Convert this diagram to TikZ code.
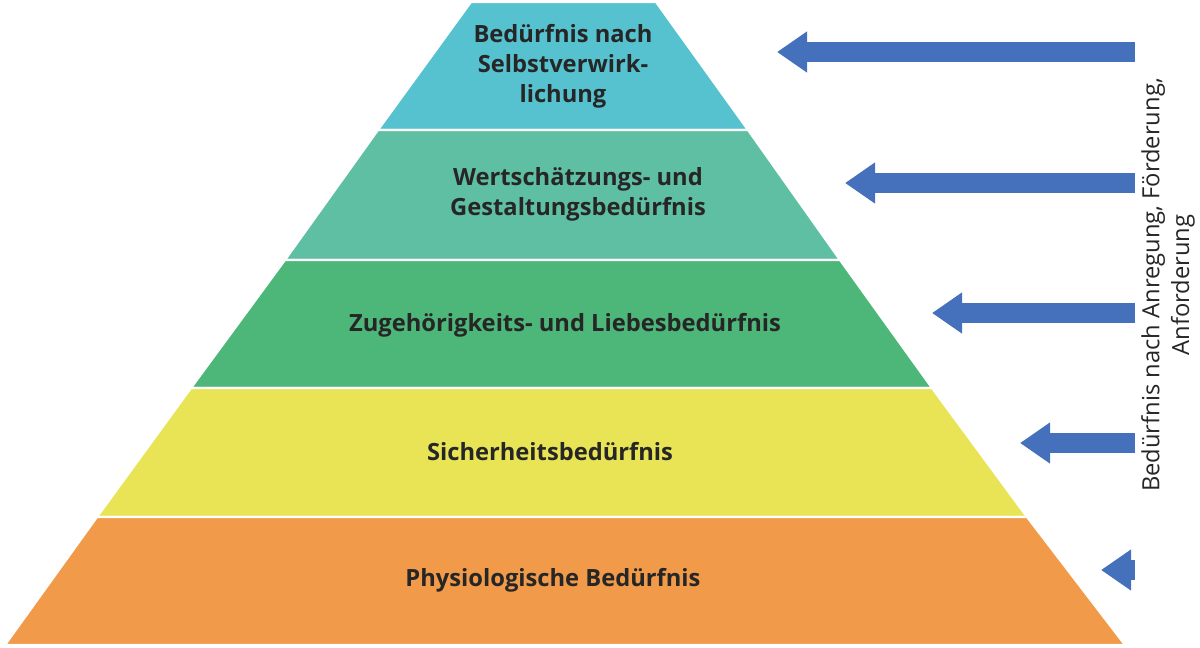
\documentclass[tikz,border=0pt]{standalone}
\usepackage{fontspec}
\setmainfont{Open Sans}
\usepackage{tikz}
\usetikzlibrary{arrows.meta}
\definecolor{lvlA}{HTML}{56C2CF}
\definecolor{lvlB}{HTML}{5FBFA2}
\definecolor{lvlC}{HTML}{4DB679}
\definecolor{lvlD}{HTML}{E9E455}
\definecolor{lvlE}{HTML}{F19A4A}
\definecolor{arrblue}{HTML}{4470BC}

\tikzset{
    layer/.style={draw=white, line width=1.2pt},
    layertext/.style={font=\fontsize{13.5}{17}\selectfont\bfseries, text=black!85, align=center},
    needarrow/.style={arrblue, line width=0.4cm, -{Triangle[length=0.6cm, width=0.78cm]}}
}

\begin{document}
\begin{tikzpicture}[x=0.02cm, y=-0.02cm]
    \useasboundingbox (0, 0) rectangle (1200, 647);
    % pyramid layers
    \fill[lvlA, layer] (471, 2) -- (656, 2) -- (748, 130) -- (378, 130) -- cycle;
    \fill[lvlB, layer] (378, 130) -- (748, 130) -- (840, 260) -- (285, 260) -- cycle;
    \fill[lvlC, layer] (285, 260) -- (840, 260) -- (932, 388) -- (191, 388) -- cycle;
    \fill[lvlD, layer] (191, 388) -- (932, 388) -- (1027, 517) -- (97, 517) -- cycle;
    \fill[lvlE, layer] (97, 517) -- (1027, 517) -- (1125, 645) -- (5, 645) -- cycle;

    \node[layertext] (selbst) at (563, 66) {Bedürfnis nach\\Selbstverwirk-\\lichung};
    \node[layertext] (wert) at (578, 194) {Wertschätzungs- und\\Gestaltungsbedürfnis};
    \node[layertext] (zug) at (565, 325) {Zugehörigkeits- und Liebesbedürfnis};
    \node[layertext] (sicher) at (550, 452) {Sicherheitsbedürfnis};
    \node[layertext] (phys) at (553, 580) {Physiologische Bedürfnis};

    % arrows
    \coordinate (a1) at (1135, 52);   \coordinate (t1) at (777, 52);
    \coordinate (a2) at (1135, 183);  \coordinate (t2) at (845, 183);
    \coordinate (a3) at (1135, 313);  \coordinate (t3) at (932, 313);
    \coordinate (a4) at (1135, 443);  \coordinate (t4) at (1020, 443);
    \coordinate (a5) at (1135, 570);  \coordinate (t5) at (1101, 570);
    \foreach \i in {1,...,5}
        \draw[needarrow] (a\i) -- (t\i);

    \node[rotate=90, align=center, font=\fontsize{13.5}{17}\selectfont, text=black!85] (anreg) at (1168, 285)
        {Bedürfnis nach Anregung, Förderung,\\Anforderung};
\end{tikzpicture}
\end{document}
